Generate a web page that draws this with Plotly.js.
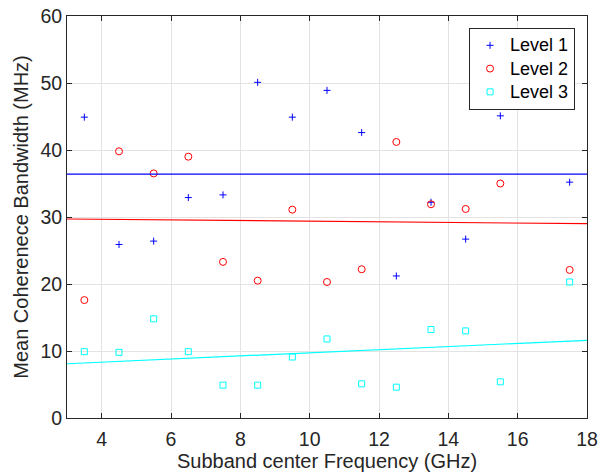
<!DOCTYPE html>
<html>
<head>
<meta charset="utf-8">
<script src="https://cdn.plot.ly/plotly-3.0.1.min.js"></script>
<style>
  html, body { margin: 0; padding: 0; background: #ffffff; }
  #chart { width: 605px; height: 476px; }
</style>
</head>
<body>
<div id="chart"></div>
<script>
// Subband centre frequencies (GHz)
const freq = [3.5, 4.5, 5.5, 6.5, 7.5, 8.5, 9.5, 10.5, 11.5, 12.5, 13.5, 14.5, 15.5, 17.5];

// Mean coherence bandwidth (MHz) per level
const level1 = [44.9, 25.9, 26.4, 32.9, 33.3, 50.1, 44.9, 48.9, 42.6, 21.2, 32.2, 26.7, 45.1, 35.2];
const level2 = [17.6, 39.8, 36.5, 39.0, 23.3, 20.5, 31.1, 20.3, 22.2, 41.2, 31.9, 31.2, 35.0, 22.1];
const level3 = [9.9, 9.8, 14.8, 9.9, 4.9, 4.9, 9.1, 11.8, 5.1, 4.6, 13.2, 13.0, 5.4, 20.3];

// Linear trend lines, evaluated at the ends of the frequency axis
const fitX = [3, 18];
const fit1 = [36.4, 36.4];
const fit2 = [29.7, 29.0];
const fit3 = [8.1, 11.6];

const names = ['Level 1', 'Level 2', 'Level 3'];
const colors = ['#0000ff', '#ff0000', '#00ffff'];
const symbols = ['cross-thin-open', 'circle-open', 'square-open'];
const sizes = [5, 7, 6];
const series = [level1, level2, level3];
const fits = [fit1, fit2, fit3];

const FAMILY = 'Liberation Sans, Arial, Helvetica, sans-serif';
const INK = '#262626';

const traces = [];
series.forEach((ys, i) => {
  traces.push({
    x: freq, y: ys, type: 'scatter', mode: 'markers',
    // larger label text inside a compact legend row
    name: '<span style="font-size:18px">' + names[i] + '</span>',
    marker: { symbol: symbols[i], size: sizes[i], color: colors[i],
              line: { color: colors[i], width: 1 } }
  });
});
fits.forEach((ys, i) => {
  traces.push({
    x: fitX, y: ys, type: 'scatter', mode: 'lines', showlegend: false,
    hoverinfo: 'skip', line: { color: colors[i], width: 1.2 }
  });
});

const axisCommon = {
  showline: true, linecolor: INK, linewidth: 1, mirror: 'ticks',
  ticks: 'inside', ticklen: 5, tickcolor: INK,
  showgrid: true, gridcolor: '#e3e3e3', gridwidth: 1, zeroline: false,
  tickfont: { family: FAMILY, size: 19.5, color: INK }
};

const layout = {
  width: 605, height: 476,
  margin: { l: 67, r: 18, t: 16, b: 58 },
  paper_bgcolor: '#ffffff', plot_bgcolor: '#ffffff',
  font: { family: FAMILY, size: 18, color: INK },
  showlegend: true,
  xaxis: Object.assign({}, axisCommon, {
    range: [3, 18], tickvals: [4, 6, 8, 10, 12, 14, 16, 18],
    ticklabelstandoff: 4,
    title: { text: 'Subband center Frequency (GHz)', font: { family: FAMILY, size: 20, color: INK }, standoff: 4 }
  }),
  yaxis: Object.assign({}, axisCommon, {
    range: [0, 60], tickvals: [0, 10, 20, 30, 40, 50, 60],
    title: { text: 'Mean Coherenece Bandwidth (MHz)', font: { family: FAMILY, size: 20, color: INK }, standoff: 6 }
  }),
  legend: {
    x: 0.977, y: 0.971, xanchor: 'right', yanchor: 'top',
    bgcolor: '#ffffff', bordercolor: INK, borderwidth: 1,
    font: { family: FAMILY, size: 15.6, color: '#000000' },
    tracegroupgap: 0, itemwidth: 30
  }
};

Plotly.newPlot('chart', traces, layout, { displayModeBar: false, staticPlot: true });
</script>
</body>
</html>
